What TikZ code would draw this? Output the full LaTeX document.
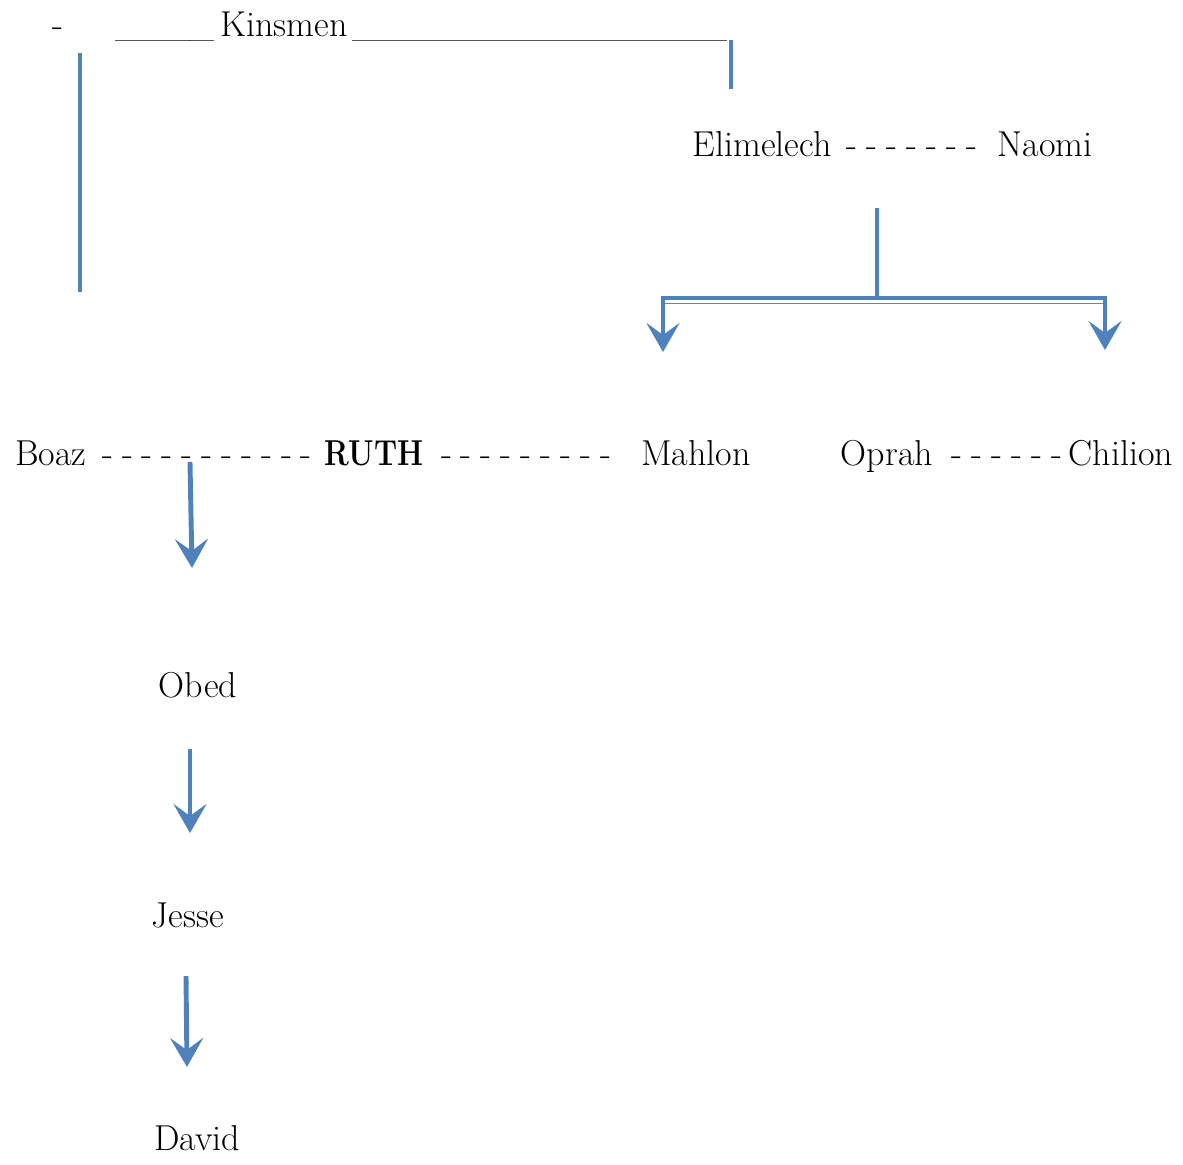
\documentclass[tikz,border=0pt]{standalone}
\usepackage{tikz}
\usetikzlibrary{arrows.meta}
\definecolor{kinblue}{RGB}{79,129,189}
\newcommand\gapdash[1]{\spaceskip=0.25em\relax#1}

\begin{document}
\begin{tikzpicture}[x=0.02cm,y=-0.02cm,
    person/.style={anchor=base,inner sep=0pt,font=\fontsize{20.5}{24}\selectfont},
    link/.style={draw=kinblue,line width=2.8pt},
    arr/.style={link,-{Stealth[length=0.58cm,width=0.66cm,inset=0.24cm]}}]
      \useasboundingbox(0,0)rectangle(1183,1164);
      % top line
      \node[person](dsh)at(58,36){-};
      \node[person](ulL)at(165,36){\_\_\_\_};
      \node[person](kin)at(284,36){Kinsmen};
      \node[person](ulR)at(540,36){\_\_\_\_\_\_\_\_\_\_\_\_\_\_\_};
      % parents
      \node[person](elim)at(762,156){Elimelech};
      \node[person](d0)at(912,156){\gapdash{- - - - - - -}};
      \node[person](naomi)at(1045,156){Naomi};
      % children row
      \node[person](boaz)at(51,465){Boaz};
      \node[person](d1)at(207,465){\gapdash{- - - - - - - - - - -}};
      \node[person](ruth)at(374,465){\scalebox{0.82}[1]{\textbf{RUTH}}};
      \node[person](d2)at(526,465){\gapdash{- - - - - - - - -}};
      \node[person](mahlon)at(696,465){Mahlon};
      \node[person](oprah)at(887,465){Oprah};
      \node[person](d3)at(1007,465){\gapdash{- - - - - -}};
      \node[person](chilion)at(1121,465){Chilion};
      % line of descent
      \node[person](obed)at(198,697){Obed};
      \node[person](jesse)at(188,927){Jesse};
      \node[person](david)at(197,1150){David};
      \coordinate(kinA)at(80,53);
      \coordinate(kinB)at(80,292);
      \coordinate(kinC)at(731,40);
      \coordinate(kinD)at(731,89);
      \coordinate(pa)at(877,208);
      \coordinate(pb)at(877,298);
      \coordinate(barL)at(663,298);
      \coordinate(barR)at(1105,298);
      \coordinate(tipM)at(663,352);
      \coordinate(tipC)at(1105,350);
      \coordinate(br)at(190,462);
      \coordinate(tipO)at(192,568);
      \coordinate(ob)at(190,749);
      \coordinate(tipJ)at(190,833);
      \coordinate(je)at(186,976);
      \coordinate(tipD)at(187,1067);
      \draw[link](kinA)--(kinB);
      \draw[link](kinC)--(kinD);
      \draw[link](pa)--(pb);
      \draw[gray,line width=0.6pt]([yshift=-0.11cm]barL)--([yshift=-0.11cm]barR);
      \draw[link,{Stealth[length=0.58cm,width=0.66cm,inset=0.24cm]}-{Stealth[length=0.58cm,width=0.66cm,inset=0.24cm]}](tipM)--(barL)--(barR)--(tipC);
      \draw[arr](br)--(tipO);
      \draw[arr](ob)--(tipJ);
      \draw[arr](je)--(tipD);
    \end{tikzpicture}
\end{document}
